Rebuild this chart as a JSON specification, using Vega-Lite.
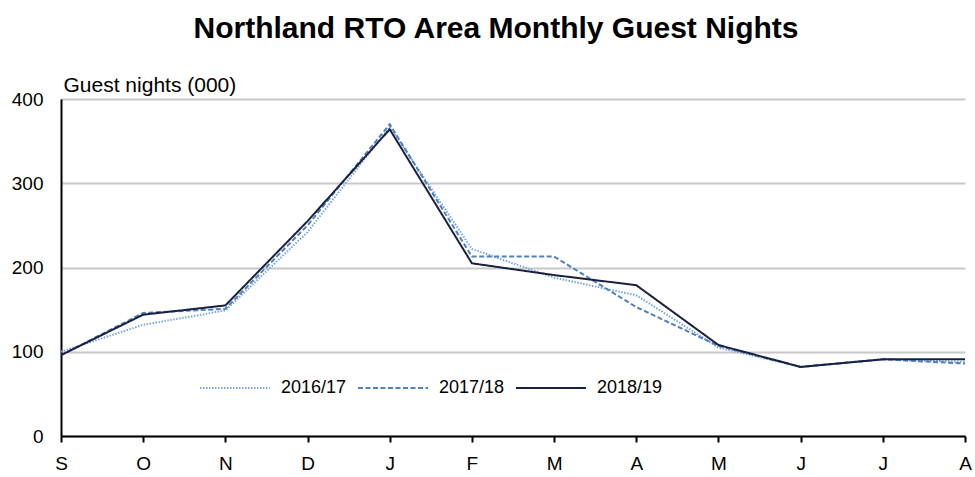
{
  "$schema": "https://vega.github.io/schema/vega-lite/v6.json",
  "width": 904,
  "height": 337,
  "autosize": {"type": "none"},
  "padding": {"left": 61, "top": 99, "right": 10, "bottom": 41},
  "background": "white",
  "config": {"view": {"stroke": null}, "font": "Liberation Sans"},
  "title": {"text": "Northland RTO Area Monthly Guest Nights", "anchor": "middle", "font": "Liberation Sans", "fontSize": 30, "fontWeight": "bold", "color": "#000000", "dx": -17, "frame": "group", "offset": 30},
  "data": {"values": [
    {"m": 0, "season": "2016/17", "v": 100}, {"m": 1, "season": "2016/17", "v": 132}, {"m": 2, "season": "2016/17", "v": 149}, {"m": 3, "season": "2016/17", "v": 242}, {"m": 4, "season": "2016/17", "v": 367}, {"m": 5, "season": "2016/17", "v": 222}, {"m": 6, "season": "2016/17", "v": 188}, {"m": 7, "season": "2016/17", "v": 167}, {"m": 8, "season": "2016/17", "v": 105}, {"m": 9, "season": "2016/17", "v": 82}, {"m": 10, "season": "2016/17", "v": 91}, {"m": 11, "season": "2016/17", "v": 88},
    {"m": 0, "season": "2017/18", "v": 96}, {"m": 1, "season": "2017/18", "v": 146}, {"m": 2, "season": "2017/18", "v": 151}, {"m": 3, "season": "2017/18", "v": 250}, {"m": 4, "season": "2017/18", "v": 370}, {"m": 5, "season": "2017/18", "v": 213}, {"m": 6, "season": "2017/18", "v": 213}, {"m": 7, "season": "2017/18", "v": 153}, {"m": 8, "season": "2017/18", "v": 107}, {"m": 9, "season": "2017/18", "v": 82}, {"m": 10, "season": "2017/18", "v": 91}, {"m": 11, "season": "2017/18", "v": 86},
    {"m": 0, "season": "2018/19", "v": 96}, {"m": 1, "season": "2018/19", "v": 144}, {"m": 2, "season": "2018/19", "v": 155}, {"m": 3, "season": "2018/19", "v": 255}, {"m": 4, "season": "2018/19", "v": 364}, {"m": 5, "season": "2018/19", "v": 205}, {"m": 6, "season": "2018/19", "v": 191}, {"m": 7, "season": "2018/19", "v": 179}, {"m": 8, "season": "2018/19", "v": 108}, {"m": 9, "season": "2018/19", "v": 82}, {"m": 10, "season": "2018/19", "v": 91}, {"m": 11, "season": "2018/19", "v": 91}
  ]},
  "mark": {"type": "line", "strokeWidth": 2},
  "encoding": {
    "x": {"field": "m", "type": "quantitative", "scale": {"domain": [0, 11], "nice": false, "zero": false},
      "axis": {"title": null, "values": [0,1,2,3,4,5,6,7,8,9,10,11], "labelExpr": "['S','O','N','D','J','F','M','A','M','J','J','A'][datum.value]", "grid": false, "domainColor": "#000000", "domainWidth": 2, "tickColor": "#000000", "tickWidth": 2, "tickSize": 6, "labelFontSize": 19, "labelColor": "#000000", "labelFont": "Liberation Sans", "labelPadding": 12, "labelFlush": false, "labelOverlap": false}},
    "y": {"field": "v", "type": "quantitative", "scale": {"domain": [0, 400], "nice": false},
      "axis": {"values": [0,100,200,300,400], "title": "Guest nights (000)", "titleAngle": 0, "titleX": 2, "titleY": -4, "titleAlign": "left", "titleBaseline": "bottom", "titleFontSize": 21, "titleFontWeight": "normal", "titleFont": "Liberation Sans", "titleColor": "#000000", "grid": true, "gridColor": "#c8c8c8", "gridWidth": 2, "domainColor": "#000000", "domainWidth": 2, "ticks": false, "labelFontSize": 19, "labelColor": "#000000", "labelFont": "Liberation Sans", "labelPadding": 18}},
    "color": {"field": "season", "type": "nominal", "scale": {"domain": ["2016/17", "2017/18", "2018/19"], "range": ["#7aa6dc", "#4f81bd", "#1c2040"]},
      "legend": {"title": null, "orient": "none", "direction": "horizontal", "legendX": 138, "legendY": 253, "symbolType": "stroke", "symbolSize": 4900, "symbolStrokeWidth": 2, "labelFontSize": 18, "labelFont": "Liberation Sans", "labelColor": "#000000", "labelOffset": 10, "columnPadding": 7}},
    "strokeDash": {"field": "season", "type": "nominal", "scale": {"domain": ["2016/17", "2017/18", "2018/19"], "range": [[1.5, 1.5], [5, 2.5], [1, 0]]}}
  }
}
